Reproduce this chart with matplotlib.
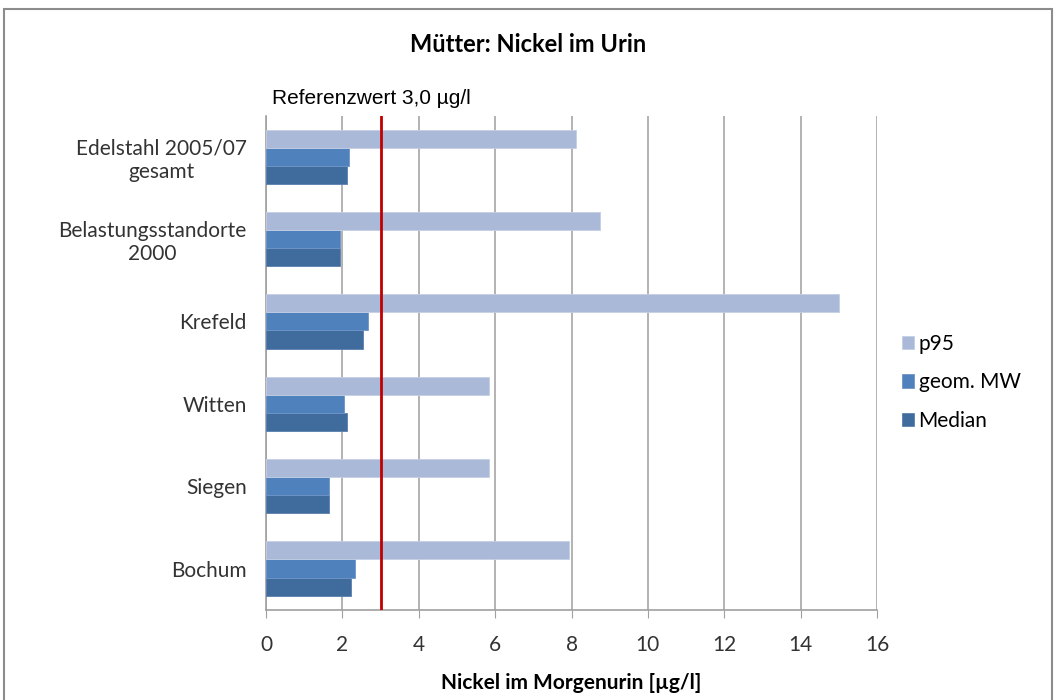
import numpy as np
import matplotlib.pyplot as plt
from matplotlib.patches import Rectangle

# Nickel im Morgenurin, Mütter [µg/l]
orte = ["Bochum", "Siegen", "Witten", "Krefeld",
        "Belastungsstandorte\n2000", "Edelstahl 2005/07\ngesamt"]
median = [2.23, 1.64, 2.11, 2.53, 1.94, 2.11]
geom_mw = [2.32, 1.64, 2.03, 2.67, 1.94, 2.17]
p95 = [7.93, 5.83, 5.83, 15.0, 8.74, 8.13]
referenzwert = 3.0

plt.rcParams['font.family'] = ['Lato', 'DejaVu Sans']

fig = plt.figure(figsize=(10.57, 7.0), dpi=100)
ax = fig.add_axes([0.2517, 0.129, 0.578, 0.706])

# Rahmen um das Diagramm
fig.patches.append(Rectangle((0.004, -0.05), 0.991, 1.037, transform=fig.transFigure,
                             fill=False, edgecolor="#8c8c8c", linewidth=1.5))

y = np.arange(len(orte))
h = 0.22
ax.barh(y - h, median, height=h, color="#406b9d", edgecolor="#5a7fb0", linewidth=0.6, label="Median", zorder=3)
ax.barh(y, geom_mw, height=h, color="#4f81bd", edgecolor="#7095c8", linewidth=0.6, label="geom. MW", zorder=3)
ax.barh(y + h, p95, height=h, color="#aab9d8", edgecolor="#c5d0e6", linewidth=0.6, label="p95", zorder=3)

ax.axvline(referenzwert, color="#c00000", linewidth=2, zorder=4)
fig.text(0.257, 0.852, "Referenzwert 3,0 µg/l", fontsize=15,
         family=["Liberation Sans", "DejaVu Sans"])

ax.set_xlim(0, 16)
ax.set_ylim(-0.5, len(orte) - 0.5)
ax.set_xticks(range(0, 17, 2))
ax.set_yticks(y)
ax.set_yticklabels(orte, multialignment="center", fontsize=15, color="#333333")
ax.tick_params(axis="x", labelsize=15, labelcolor="#333333", length=6, color="#a0a0a0",
               direction="out", pad=12)
ax.tick_params(axis="y", length=0, pad=14)
ax.grid(axis="x", color="#a6a6a6", linewidth=1.2, zorder=0)

for s in ["top", "right"]:
    ax.spines[s].set_visible(False)
for s in ["left", "bottom"]:
    ax.spines[s].set_color("#a0a0a0")
    ax.spines[s].set_linewidth(1.2)

ax.set_xlabel("Nickel im Morgenurin [µg/l]", fontsize=15, fontweight="bold", labelpad=13)
fig.text(0.5, 0.925, "Mütter: Nickel im Urin", ha="center", fontsize=17, fontweight="bold")

handles, labels = ax.get_legend_handles_labels()
ax.legend(handles[::-1], labels[::-1], loc="center left", bbox_to_anchor=(1.01, 0.46),
          frameon=False, fontsize=15, handlelength=0.6, handleheight=0.6,
          handletextpad=0.2, labelspacing=0.9)

fig.savefig("out.png", dpi=100)
